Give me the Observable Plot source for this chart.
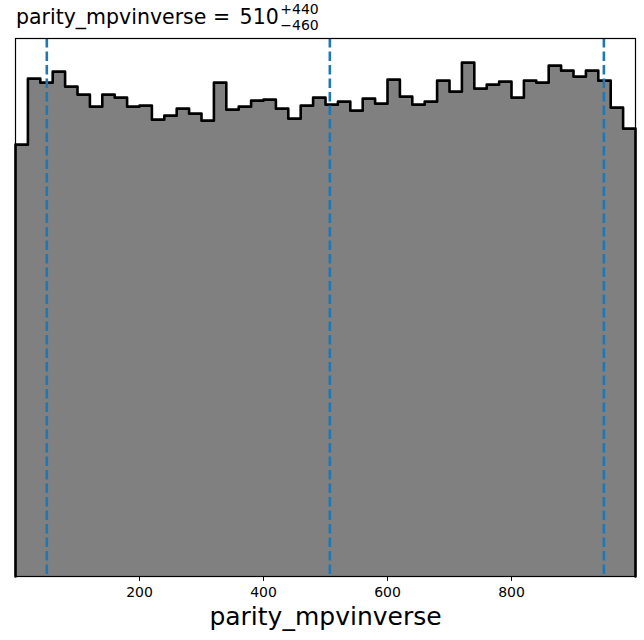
<!DOCTYPE html>
<html>
<head>
<meta charset="utf-8">
<script src="https://cdn.jsdelivr.net/npm/d3@7"></script>
<script src="https://cdn.jsdelivr.net/npm/@observablehq/plot@0.6"></script>
<style>
  html, body { margin: 0; padding: 0; background: #fff; }
  #wrap { position: relative; width: 644px; height: 640px; font-family: "DejaVu Sans", sans-serif; }
  #title { position: absolute; left: 16px; top: 1px; font-size: 20.5px; line-height: 24px; color: #000; white-space: nowrap; z-index: 2; }
  .num { margin-left: 3px; }
  .ss { display: inline-block; vertical-align: -6.5px; font-size: 14px; line-height: 16px; margin-left: 1.5px; }
  .ss span { display: block; }
</style>
</head>
<body>
<div id="wrap">
  <div id="title">parity_mpvinverse =<span class="num"> 510</span><span class="ss"><span>+440</span><span>−460</span></span></div>
</div>
<script>
const xLabel = "parity_mpvinverse";
const binStart = 0;
const binWidth = 20;
const counts = [432, 498, 494, 505, 490, 482, 470, 482, 479, 470,
                471, 457, 461, 468, 463, 456, 494, 467, 470, 476,
                477, 468, 458, 471, 479, 472, 475, 466, 478, 473,
                497, 480, 472, 475, 496, 485, 514, 488, 492, 495,
                479, 496, 494, 511, 506, 500, 506, 496, 469, 448];
const quantiles = [50.5, 507, 949];
const xTicks = [200, 400, 600, 800];

const xEnd = binStart + binWidth * counts.length;
const steps = [{x: binStart, y: 0}]
  .concat(counts.map((c, i) => ({x: binStart + i * binWidth, y: c})))
  .concat([{x: xEnd, y: counts[counts.length - 1]}, {x: xEnd, y: 0}]);
const yMax = d3.max(counts) * 1.047;

const chart = Plot.plot({
  width: 644,
  height: 640,
  marginTop: 38,
  marginBottom: 64,
  marginLeft: 15,
  marginRight: 9,
  style: {fontFamily: "DejaVu Sans, sans-serif", fontSize: "14px", color: "#000", background: "transparent"},
  x: {domain: [binStart, xEnd], ticks: xTicks, tickSize: 4.9, tickPadding: 6, label: null},
  y: {domain: [0, yMax], axis: null},
  marks: [
    Plot.areaY(steps, {x: "x", y: "y", curve: "step-after", fill: "#808080"}),
    Plot.line(steps, {x: "x", y: "y", curve: "step-after", stroke: "#000", strokeWidth: 2.6}),
    Plot.ruleX(quantiles, {stroke: "#1f77b4", strokeWidth: 2.6, strokeDasharray: "9.5,4"}),
    Plot.frame({stroke: "#000", strokeWidth: 1.2}),
    Plot.text([xLabel], {frameAnchor: "bottom", dy: 48, fontSize: 25, fill: "#000", text: d => d})
  ]
});
document.getElementById("wrap").prepend(chart);
chart.style.position = "absolute";
chart.style.left = "0";
chart.style.top = "0";
</script>
</body>
</html>
